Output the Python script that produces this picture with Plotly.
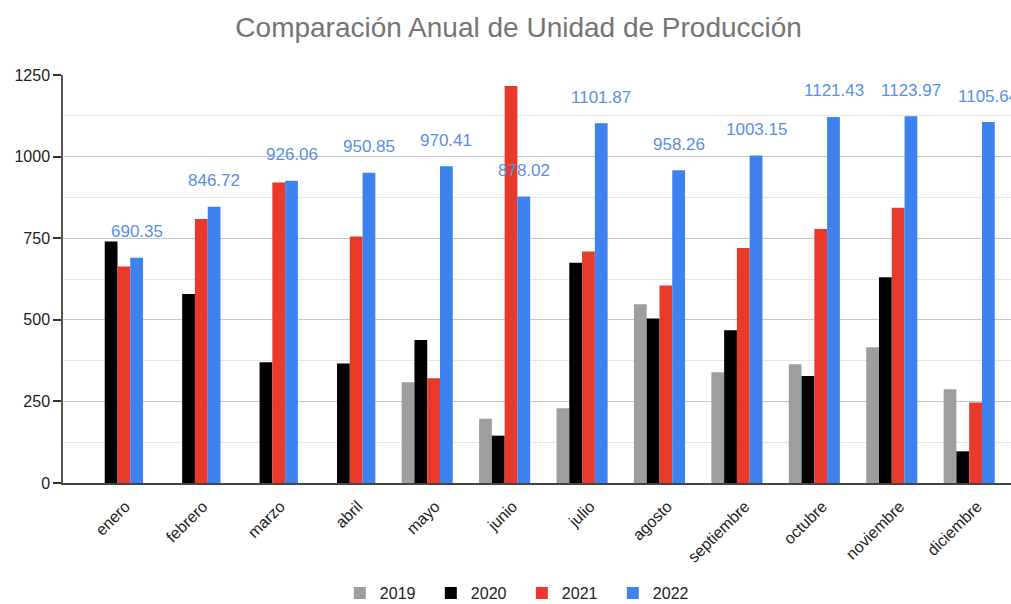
import plotly.graph_objects as go

# Monthly production units per year
meses = ["enero", "febrero", "marzo", "abril", "mayo", "junio", "julio",
         "agosto", "septiembre", "octubre", "noviembre", "diciembre"]
v2019 = [None, None, None, None, 309, 197, 229, 548, 339, 364, 416, 287]
v2020 = [740, 579, 370, 366, 438, 145, 675, 504, 468, 328, 630, 97]
v2021 = [663, 809, 921, 755, 321, 1216, 709, 605, 720, 778, 843, 247]
v2022 = [690.35, 846.72, 926.06, 950.85, 970.41, 878.02, 1101.87,
         958.26, 1003.15, 1121.43, 1123.97, 1105.64]

series = [("2019", v2019, "#9e9e9e"), ("2020", v2020, "#000000"),
          ("2021", v2021, "#e8392b"), ("2022", v2022, "#3d82ef")]

FONT = "Liberation Sans, Arial, sans-serif"
W, H = 1011, 604
ml, mr, mt, mb = 63, 0, 75, 121
x_range = [-0.704, 11.54]
bargap = 0.34

fig = go.Figure()
for name, vals, color in series:
    fig.add_trace(go.Bar(
        x=meses, y=vals, name=name,
        marker=dict(color=color, line=dict(width=0)),
    ))

# value labels above the 2022 bars
plot_w = W - ml - mr
cat_px = plot_w / (x_range[1] - x_range[0])
bar_px = cat_px * (1 - bargap) / 4
for m, v in zip(meses, v2022):
    fig.add_annotation(
        x=m, y=v, text=f"{v:.2f}",
        showarrow=False, xshift=1.5 * bar_px, yshift=26, yanchor="middle",
        font=dict(family=FONT, size=17, color="#5b8fe6"),
    )

fig.update_layout(
    width=W, height=H,
    margin=dict(l=ml, r=mr, t=mt, b=mb, autoexpand=False),
    paper_bgcolor="white", plot_bgcolor="white",
    barmode="group", bargap=bargap, bargroupgap=0,
    title=dict(text="Comparación Anual de Unidad de Producción",
               x=0.513, xanchor="center", y=0.955, yanchor="middle",
               font=dict(family=FONT, size=28, color="#757575")),
    font=dict(family=FONT, size=16, color="#222222"),
    legend=dict(orientation="h", xref="paper", x=0.484, xanchor="center",
                yref="container", y=0.018, yanchor="middle",
                font=dict(family=FONT, size=16, color="#222222"), itemwidth=30,
                entrywidth=46, traceorder="normal"),
    showlegend=True,
)
fig.update_xaxes(
    type="category", range=x_range, tickangle=-45, automargin=False,
    showline=True, linecolor="#444444", linewidth=1.5,
    ticks="", tickfont=dict(family=FONT, size=16, color="#222222"),
    ticklabelshift=8, ticklabelstandoff=6,
    showgrid=False,
)
fig.update_yaxes(
    range=[0, 1250], tickvals=[0, 250, 500, 750, 1000, 1250], automargin=False,
    showline=True, linecolor="#555555", linewidth=1.5,
    ticks="outside", ticklen=8, tickcolor="#333333", tickwidth=1.5,
    tickfont=dict(family=FONT, size=16, color="#222222"),
    showgrid=True, gridcolor="#c8c8c8", gridwidth=1,
    minor=dict(dtick=125, tick0=0, showgrid=True, gridcolor="#e6e6e6", ticks=""),
    zeroline=False,
)

fig.write_html("out.html")
